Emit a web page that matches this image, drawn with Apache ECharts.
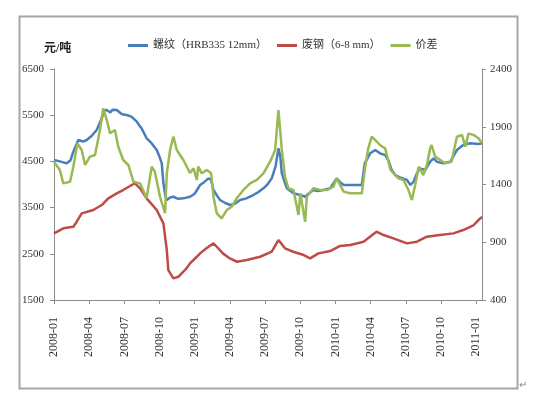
<!DOCTYPE html>
<html lang="zh">
<head>
<meta charset="UTF-8">
<title>螺纹 废钢 价差</title>
<script src="https://cdn.jsdelivr.net/npm/echarts@6/dist/echarts.min.js"></script>
<style>
	html, body { margin:0; padding:0; background:#fff; }
	#chart { width:533px; height:396px; }
</style>
</head>
<body>
<div id="chart"></div>
<script>
// x = months since 2008-01
var monthTicks = [0, 3, 6, 9, 12, 15, 18, 21, 24, 27, 30, 33, 36];
var monthLabels = ['2008-01','2008-04','2008-07','2008-10','2009-01','2009-04','2009-07','2009-10','2010-01','2010-04','2010-07','2010-10','2011-01'];
var leftTicks = [1500, 2500, 3500, 4500, 5500, 6500];
var rightTicks = [400, 900, 1400, 1900, 2400];

var seriesNames = ['螺纹（HRB335 12mm）', '废钢（6-8 mm）', '价差'];

// 螺纹 (元/吨, left axis)
var rebar = [
	[0,4530],[0.5,4500],[1.08,4458],[1.4,4520],[1.65,4710],[2.07,4963],[2.5,4930],[2.79,4963],[3.2,5050],[3.64,5179],
	[4.07,5433],[4.3,5600],[4.5,5612],[4.8,5560],[5.0,5620],[5.35,5612],[5.8,5520],[6.2,5504],[6.6,5470],[7.06,5359],
	[7.5,5200],[7.9,5000],[8.3,4900],[8.76,4746],[9.0,4600],[9.19,4458],[9.33,4025],[9.5,3750],[9.62,3664],[9.9,3720],
	[10.18,3735],[10.6,3690],[11.03,3700],[11.6,3735],[12.0,3800],[12.46,3989],[12.8,4050],[13.17,4134],[13.4,4100],[13.6,3880],
	[13.9,3760],[14.16,3664],[14.6,3600],[15.02,3556],[15.4,3580],[15.87,3664],[16.4,3700],[17.0,3772],[17.4,3830],[17.86,3917],
	[18.2,4000],[18.57,4134],[18.9,4400],[19.14,4783],[19.3,4600],[19.43,4242],[19.85,3917],[20.42,3809],[20.9,3780],[21.42,3735],
	[21.7,3800],[22.12,3880],[22.5,3860],[22.98,3880],[23.55,3917],[24.1,4134],[24.4,4050],[24.7,3989],[25.5,3990],[26.25,3989],
	[26.5,4458],[26.96,4675],[27.4,4746],[27.8,4675],[28.24,4638],[28.5,4530],[28.8,4313],[29.1,4205],[29.5,4155],[30.1,4097],
	[30.4,3989],[30.66,4060],[30.95,4242],[31.2,4350],[31.66,4313],[32.08,4493],[32.37,4567],[32.65,4493],[33.2,4458],[33.8,4493],
	[34.36,4746],[34.9,4855],[35.5,4891],[36.2,4876],[36.5,4891]
];

// 废钢 (元/吨, left axis)
var scrap = [
	[0,2943],[0.8,3051],[1.65,3086],[1.94,3194],[2.36,3376],[3.35,3447],[4.07,3556],[4.63,3700],[5.35,3809],[5.9,3880],
	[6.63,3989],[6.9,4025],[7.34,3917],[7.9,3700],[8.76,3447],[9.33,3159],[9.62,2581],[9.75,2148],[10.18,1969],[10.6,2003],
	[11.3,2185],[11.6,2293],[12.18,2436],[12.46,2509],[13.0,2620],[13.6,2726],[14.0,2620],[14.4,2509],[15.0,2400],[15.6,2328],
	[16.44,2365],[17.58,2436],[18.57,2545],[19.14,2798],[19.7,2618],[20.4,2545],[21.3,2473],[21.84,2401],[22.55,2509],[23.55,2560],
	[24.4,2670],[25.26,2690],[26.4,2762],[27.5,2978],[28.1,2906],[28.95,2834],[30.1,2726],[30.95,2762],[31.8,2870],[32.9,2906],
	[34.07,2942],[34.9,3014],[35.8,3123],[36.2,3231],[36.5,3300]
];

// 价差 (right axis)
var spread = [
	[0,1597],[0.5,1526],[0.79,1410],[1.37,1424],[1.65,1554],[1.99,1757],[2.36,1699],[2.65,1569],[3.07,1641],[3.5,1655],
	[3.92,1872],[4.2,2060],[4.5,1958],[4.78,1843],[5.2,1872],[5.48,1727],[5.9,1612],[6.34,1569],[6.77,1424],[7.34,1410],
	[7.9,1281],[8.33,1554],[8.6,1511],[9.04,1294],[9.47,1151],[9.62,1497],[9.9,1699],[10.18,1814],[10.47,1699],[11.03,1612],
	[11.6,1500],[11.9,1540],[12.18,1439],[12.3,1554],[12.6,1497],[13.03,1526],[13.17,1540],[13.4,1497],[13.6,1294],[13.88,1151],
	[14.3,1107],[14.73,1179],[15.16,1208],[15.59,1281],[16.15,1352],[16.72,1410],[17.3,1439],[17.86,1497],[18.43,1597],[18.86,1699],
	[19.14,2045],[19.43,1699],[19.7,1467],[19.99,1367],[20.42,1352],[20.85,1136],[21.0,1324],[21.42,1078],[21.56,1294],[22.12,1367],
	[22.7,1352],[23.27,1352],[23.83,1381],[24.1,1454],[24.7,1338],[25.26,1324],[26.25,1324],[26.54,1554],[26.8,1713],[27.1,1814],
	[27.4,1785],[27.8,1742],[28.24,1713],[28.7,1526],[28.95,1497],[29.38,1454],[29.8,1439],[30.23,1352],[30.52,1266],[30.8,1396],
	[31.1,1554],[31.5,1482],[31.8,1569],[32.08,1713],[32.2,1742],[32.5,1641],[32.94,1612],[33.36,1583],[33.9,1597],[34.36,1814],
	[34.8,1828],[35.07,1727],[35.35,1843],[35.8,1828],[36.2,1800],[36.5,1760]
];

var chart = echarts.init(document.getElementById('chart'), null, { renderer: 'canvas' });

var numFont = "'Liberation Serif', 'Noto Sans CJK SC', serif";
var axisGray = '#8c8c8c';
var plainNum = function (v) { return String(v); };

var option = {
	animation: false,
	backgroundColor: '#fff',
	color: ['#4A7EBB', '#BE4B48', '#98B954'],
	graphic: [
		{
			type: 'rect',
			shape: { x: 19.5, y: 16.5, width: 498, height: 372 },
			style: { fill: 'none', stroke: '#a6a6a6', lineWidth: 2 }
		},
		{
			type: 'text',
			left: 519, top: 380,
			style: { text: '↵', fill: '#888', font: '10px ' + numFont }
		}
	],
	legend: {
		top: 35,
		left: 123,
		icon: 'rect',
		itemWidth: 20,
		itemHeight: 3,
		itemGap: 10,
		textStyle: { color: '#333', fontFamily: numFont, fontSize: 11 },
		data: seriesNames
	},
	grid: { left: 54, right: 51, top: 69, bottom: 96 },
	xAxis: {
		type: 'value',
		min: 0,
		max: 36.5,
		splitLine: { show: false },
		axisLine: { lineStyle: { color: axisGray, width: 1 } },
		axisTick: { customValues: monthTicks, length: 4, lineStyle: { color: axisGray } },
		axisLabel: {
			customValues: monthTicks,
			rotate: 90,
			margin: 17,
			color: '#333',
			fontFamily: numFont,
			fontSize: 12,
			formatter: function (v) { return monthLabels[monthTicks.indexOf(v)] || ''; }
		}
	},
	yAxis: [
		{
			type: 'value',
			min: 1500,
			max: 6500,
			name: '元/吨',
			nameLocation: 'end',
			nameGap: 14,
			nameTextStyle: { color: '#222', fontSize: 12, fontWeight: 'bold', fontFamily: numFont, align: 'left', padding: [0, 0, 0, -10] },
			splitLine: { show: false },
			axisLine: { show: true, lineStyle: { color: axisGray, width: 1 } },
			axisTick: { show: true, customValues: leftTicks, length: 4, lineStyle: { color: axisGray } },
			axisLabel: { customValues: leftTicks, margin: 10, color: '#333', fontFamily: numFont, fontSize: 11, formatter: plainNum }
		},
		{
			type: 'value',
			min: 400,
			max: 2400,
			position: 'right',
			splitLine: { show: false },
			axisLine: { show: true, lineStyle: { color: axisGray, width: 1 } },
			axisTick: { show: true, customValues: rightTicks, length: 4, lineStyle: { color: axisGray } },
			axisLabel: { customValues: rightTicks, margin: 8, color: '#333', fontFamily: numFont, fontSize: 11, formatter: plainNum }
		}
	],
	series: [
		{
			name: seriesNames[0],
			type: 'line',
			yAxisIndex: 0,
			showSymbol: false,
			lineStyle: { width: 2.5 },
			data: rebar
		},
		{
			name: seriesNames[1],
			type: 'line',
			yAxisIndex: 0,
			showSymbol: false,
			lineStyle: { width: 2.5 },
			data: scrap
		},
		{
			name: seriesNames[2],
			type: 'line',
			yAxisIndex: 1,
			showSymbol: false,
			lineStyle: { width: 2.5 },
			data: spread
		}
	]
};
chart.setOption(option);
</script>
</body>
</html>
